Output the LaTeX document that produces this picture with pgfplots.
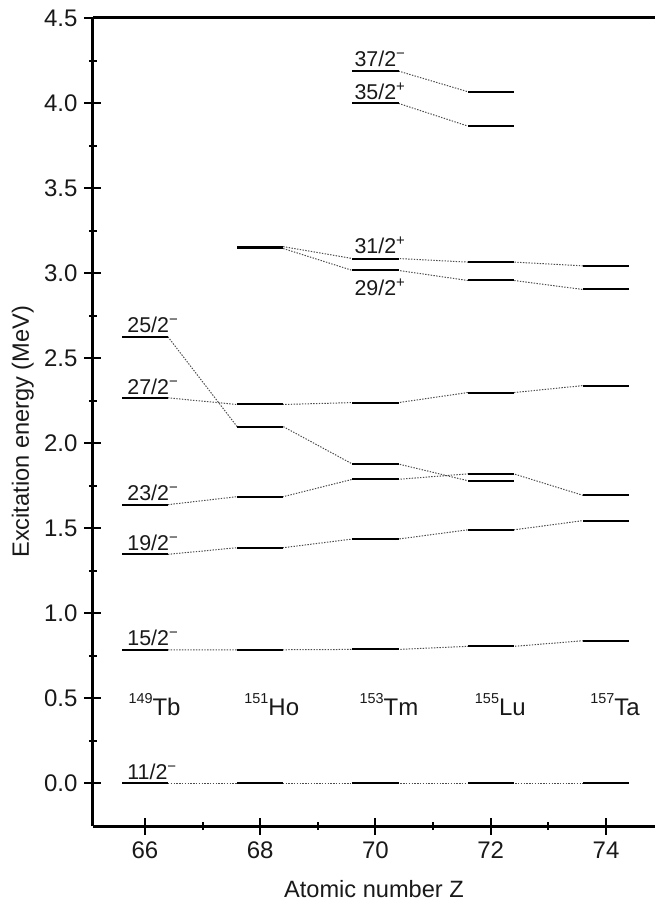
\documentclass[border=0pt]{standalone}
\usepackage{pgfplots}
\pgfplotsset{compat=1.18}
\usepackage{fontspec}
\setmainfont{Liberation Sans}
\newcommand{\spn}[2]{#1\textsuperscript{#2}}
\newcommand{\iso}[2]{\raisebox{6pt}{\fontsize{7.2}{8}\selectfont #1}#2}
\begin{document}
\begin{tikzpicture}
\begin{axis}[name=ax, scale only axis, width=281pt, height=404pt,
  xmin=65.1, xmax=74.85, ymin=-0.25, ymax=4.5,
  axis x line=box, axis y line=left,
  axis line style={-, line width=1.5pt, black},
  xtick pos=bottom, ytick pos=left,
  tick align=center, major tick length=8.5pt, minor tick length=4pt,
  every tick/.style={line width=1pt, black},
  xtick={66,68,70,72,74}, minor x tick num=1,
  ytick={0,0.5,1,1.5,2,2.5,3,3.5,4,4.5}, minor y tick num=1,
  yticklabel style={/pgf/number format/.cd, fixed, fixed zerofill, precision=1},
  /pgf/number format/assume math mode=true,
  tick label style={font=\fontsize{12}{14}\selectfont, text=black!90},
  xlabel={Atomic number Z}, ylabel={Excitation energy (MeV)},
  label style={font=\fontsize{11.8}{14}\selectfont, text=black!90},
  xlabel style={at={(axis description cs:0.5,0)}, anchor=base, yshift=-35.5pt},
  ylabel style={at={(axis description cs:-0.125,0.488)}, anchor=center},
]
% connecting dotted lines
\pgfplotsset{conn/.style={black!70, line width=0.5pt, dash pattern=on 0.7pt off 0.7pt, mark=none}}
\addplot[conn] coordinates {(66.4,0)(73.6,0)};
\addplot[conn] coordinates {(66.4,0.786)(67.6,0.786)(68.4,0.786)(69.6,0.788)(70.4,0.788)(71.6,0.806)(72.4,0.806)(73.6,0.839)};
\addplot[conn] coordinates {(66.4,1.347)(67.6,1.386)(68.4,1.386)(69.6,1.437)(70.4,1.437)(71.6,1.491)(72.4,1.491)(73.6,1.545)};
\addplot[conn] coordinates {(66.4,1.639)(67.6,1.686)(68.4,1.686)(69.6,1.788)(70.4,1.788)(71.6,1.820)(72.4,1.820)(73.6,1.694)};
\addplot[conn] coordinates {(66.4,2.626)(67.6,2.098)(68.4,2.098)(69.6,1.878)(70.4,1.878)(71.6,1.780)};
\addplot[conn] coordinates {(66.4,2.267)(67.6,2.228)(68.4,2.228)(69.6,2.239)(70.4,2.239)(71.6,2.298)(72.4,2.298)(73.6,2.339)};
\addplot[conn] coordinates {(68.4,3.145)(69.6,3.016)(70.4,3.016)(71.6,2.957)(72.4,2.957)(73.6,2.904)};
\addplot[conn] coordinates {(68.4,3.156)(69.6,3.086)(70.4,3.086)(71.6,3.065)(72.4,3.065)(73.6,3.043)};
\addplot[conn] coordinates {(70.4,3.998)(71.6,3.865)};
\addplot[conn] coordinates {(70.4,4.188)(71.6,4.067)};
% level bars
\addplot[draw=none, no markers,
  error bars/.cd, x dir=both, x fixed=0.4, error mark=none,
  error bar style={draw=black, line width=1pt}] table {
Z E
66 0
66 0.786
66 1.347
66 1.639
66 2.267
66 2.626
68 0
68 0.786
68 1.386
68 1.686
68 2.098
68 2.228
68 3.145
68 3.156
70 0
70 0.788
70 1.437
70 1.788
70 1.878
70 2.239
70 3.016
70 3.086
70 3.998
70 4.188
72 0
72 0.806
72 1.491
72 1.780
72 1.820
72 2.298
72 2.957
72 3.065
72 3.865
72 4.067
74 0
74 0.839
74 1.545
74 1.694
74 2.339
74 2.904
74 3.043
};
% spin labels
\begin{scope}[every node/.style={anchor=base west, inner sep=0pt, font=\fontsize{10.7}{12}\selectfont, text=black!90}]
\node at (axis cs:65.69,0.025) {\spn{11/2}{−}};
\node at (axis cs:65.69,0.811) {\spn{15/2}{−}};
\node at (axis cs:65.69,1.372) {\spn{19/2}{−}};
\node at (axis cs:65.69,1.664) {\spn{23/2}{−}};
\node at (axis cs:65.69,2.285) {\spn{27/2}{−}};
\node at (axis cs:65.69,2.652) {\spn{25/2}{−}};
\node at (axis cs:69.63,3.116) {\spn{31/2}{+}};
\node at (axis cs:69.63,2.871) {\spn{29/2}{+}};
\node at (axis cs:69.63,4.021) {\spn{35/2}{+}};
\node at (axis cs:69.63,4.213) {\spn{37/2}{−}};
\end{scope}
% nuclide labels
\begin{scope}[every node/.style={anchor=base west, inner sep=0pt, font=\fontsize{12}{14}\selectfont, text=black!90}]
\node at (axis cs:65.71,0.40) {\iso{149}{Tb}};
\node at (axis cs:67.72,0.40) {\iso{151}{Ho}};
\node at (axis cs:69.72,0.40) {\iso{153}{Tm}};
\node at (axis cs:71.72,0.40) {\iso{155}{Lu}};
\node at (axis cs:73.72,0.40) {\iso{157}{Ta}};
\end{scope}
\end{axis}
\pgfresetboundingbox
\path ([shift={(-46.5pt,-37.5pt)}]ax.south west) rectangle ([shift={(0pt,9pt)}]ax.north east);
\end{tikzpicture}
\end{document}
